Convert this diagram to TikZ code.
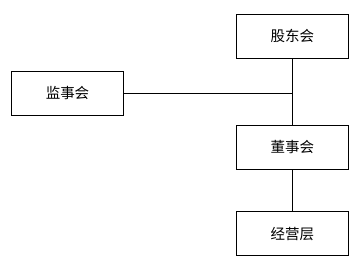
\documentclass[tikz,border=0pt]{standalone}
\usepackage{fontspec}
\newfontfamily\cjk{Noto Sans CJK SC}
\usetikzlibrary{positioning}
\tikzset{
  every picture/.style={line width=1pt},
  org/.style={draw=black, fill=white, minimum width=112pt, minimum height=44pt, inner sep=0pt, font=\cjk\fontsize{14.5}{17}\selectfont},
  link/.style={draw=black, line width=1pt},
}
\begin{document}
\begin{tikzpicture}[x=1pt, y=1pt]
  \useasboundingbox (0,0) rectangle (360,270);
  % boxes
  \node[org] (gudong) at (292.5,233.7) {股东会};
  \node[org] (jianshi) at (67.5,176.8) {监事会};
  \node[org] (dongshi) at (292.5,122.7) {董事会};
  \node[org] (jingying) at (292.5,36) {经营层};
  % links
  \coordinate (join) at (gudong.center |- jianshi.east);
  \draw[link] (gudong) -- (dongshi);
  \draw[link] (jianshi) -- (join);
  \draw[link] (dongshi) -- (jingying);
\end{tikzpicture}
\end{document}
